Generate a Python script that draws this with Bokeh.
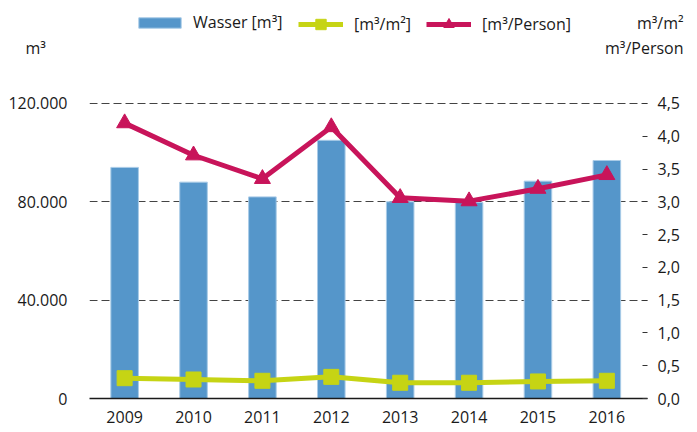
from bokeh.plotting import figure
from bokeh.layouts import column, row
from bokeh.models import Range1d, LinearAxis, FixedTicker, Legend, LegendItem, Label
from bokeh.embed import file_html
from bokeh.resources import INLINE

# ---------------- data ----------------
years = [2009, 2010, 2011, 2012, 2013, 2014, 2015, 2016]
year_labels = ["2009", "2010", "2011", "2012", "2013", "2014", "2015", "2016"]
wasser_m3 = [94000, 88000, 82000, 105000, 80000, 79700, 88400, 96800]
m3_per_m2 = [0.31, 0.29, 0.27, 0.33, 0.24, 0.24, 0.26, 0.27]
m3_per_person = [4.20, 3.71, 3.35, 4.14, 3.06, 3.01, 3.20, 3.41]

left_ticks = [0, 40000, 80000, 120000]
left_tick_labels = ["0", "40.000", "80.000", "120.000"]
grid_ticks = [40000, 80000, 120000]
right_ticks = [0.0, 0.5, 1.0, 1.5, 2.0, 2.5, 3.0, 3.5, 4.0, 4.5]
right_tick_labels = ["0,0", "0,5", "1,0", "1,5", "2,0", "2,5", "3,0", "3,5", "4,0", "4,5"]

series_names = ["Wasser [m³]", "[m³/m²]", "[m³/Person]"]
left_title = "m³"
right_title_1 = "m³/m²"
right_title_2 = "m³/Person"

# ---------------- style ----------------
FONT = "Open Sans"
FS = "16px"
TXT = "#1a1a1a"
BLUE = "#5596ca"
BLUE_EDGE = "#a9cbe7"
GREEN = "#c6d414"
MAGENTA = "#c8145a"

W = 689
HEAD_H = 60
LEFT_MAX = 133400
RIGHT_MAX = LEFT_MAX * 4.5 / 120000
OFF = -1000  # proxy point far outside the header's range: never visible

# ---------------- header (legend + unit titles) ----------------
head = figure(width=W, height=HEAD_H, x_range=Range1d(0, W), y_range=Range1d(0, HEAD_H),
              x_axis_type=None, y_axis_type=None, output_backend="svg",
              toolbar_location=None, min_border=0)
head.outline_line_color = None
head.grid.visible = False
head.background_fill_color = "white"
head.border_fill_color = "white"

# legend proxies, only used to draw the legend glyphs
b_proxy = head.vbar(x=[OFF], top=[OFF], bottom=[OFF], width=1, fill_color=BLUE, line_color=BLUE_EDGE)
g_line = head.line(x=[OFF, OFF], y=[OFF, OFF], line_width=5, line_color=GREEN)
g_mark = head.scatter(x=[OFF], y=[OFF], marker="square", fill_color=GREEN, line_color=GREEN)
m_line = head.line(x=[OFF, OFF], y=[OFF, OFF], line_width=5, line_color=MAGENTA)
m_mark = head.scatter(x=[OFF], y=[OFF], marker="triangle", fill_color=MAGENTA, line_color=MAGENTA)

common = dict(orientation="horizontal", padding=0, margin=0, border_line_color=None,
              background_fill_alpha=0, label_text_font=FONT, label_text_font_size=FS,
              label_text_color=TXT)

legend_bar = Legend(items=[LegendItem(label=series_names[0], renderers=[b_proxy])],
                    location=(133, 27), glyph_width=53, glyph_height=13, label_height=13,
                    label_standoff=7, **common)
legend_lines = Legend(items=[
    LegendItem(label=series_names[1], renderers=[g_line, g_mark]),
    LegendItem(label=series_names[2], renderers=[m_line, m_mark]),
], location=(298, 23), glyph_width=45, glyph_height=26, label_height=26,
    label_standoff=11, spacing=15, **common)
head.add_layout(legend_bar)
head.add_layout(legend_lines)

for txt, x, y, align in [(left_title, 25, 13, "left"),
                         (right_title_1, 683, 38, "right"),
                         (right_title_2, 683, 13, "right")]:
    head.add_layout(Label(x=x, y=y, text=txt, text_align=align, text_baseline="middle",
                          text_font=FONT, text_font_size=FS, text_color=TXT))

# ---------------- main chart ----------------
p = figure(width=W, height=368,
           x_range=Range1d(2008.49, 2016.59), y_range=Range1d(0, LEFT_MAX),
           output_backend="svg", toolbar_location=None,
           min_border_left=89, min_border_right=42, min_border_top=10, min_border_bottom=30)
p.extra_y_ranges = {"right": Range1d(0, RIGHT_MAX)}
p.outline_line_color = None
p.background_fill_color = "white"
p.border_fill_color = "white"

xa = p.xaxis[0]
xa.ticker = FixedTicker(ticks=years)
xa.major_label_overrides = {y: l for y, l in zip(years, year_labels)}
xa.major_tick_line_color = None
xa.minor_tick_line_color = None
xa.axis_line_color = TXT
xa.axis_line_width = 1.5
xa.major_label_standoff = 6
xa.major_label_text_font = FONT
xa.major_label_text_font_size = FS
xa.major_label_text_color = TXT

ya = p.yaxis[0]
ya.ticker = FixedTicker(ticks=left_ticks)
ya.major_label_overrides = {t: l for t, l in zip(left_ticks, left_tick_labels)}
ya.axis_line_color = None
ya.major_tick_line_color = None
ya.minor_tick_line_color = None
ya.major_label_standoff = 16
ya.major_label_text_font = FONT
ya.major_label_text_font_size = FS
ya.major_label_text_color = TXT

ra = LinearAxis(y_range_name="right", ticker=FixedTicker(ticks=right_ticks))
ra.major_label_overrides = {t: l for t, l in zip(right_ticks, right_tick_labels)}
ra.axis_line_color = None
ra.major_tick_in = 5
ra.major_tick_out = 0
ra.major_tick_line_color = "#333333"
ra.minor_tick_line_color = None
ra.major_label_standoff = 10
ra.major_label_text_font = FONT
ra.major_label_text_font_size = FS
ra.major_label_text_color = TXT
p.add_layout(ra, "right")

p.xgrid.visible = False
p.ygrid.ticker = FixedTicker(ticks=grid_ticks)
p.ygrid.grid_line_color = "#444444"
p.ygrid.grid_line_dash = "8 4"
p.ygrid.grid_line_width = 1

p.vbar(x=years, top=wasser_m3, width=0.4, fill_color=BLUE,
       line_color=BLUE_EDGE, line_width=1)
p.line(years, m3_per_m2, y_range_name="right", line_width=5, line_color=GREEN)
p.scatter(years, m3_per_m2, y_range_name="right", marker="square", size=15,
          fill_color=GREEN, line_color=GREEN)
p.line(years, m3_per_person, y_range_name="right", line_width=5, line_color=MAGENTA)
p.scatter(years, m3_per_person, y_range_name="right", marker="triangle", size=16,
          fill_color=MAGENTA, line_color=MAGENTA)

layout = column(row(head), p, spacing=0)
open("out.html", "w").write(file_html(layout, INLINE))
